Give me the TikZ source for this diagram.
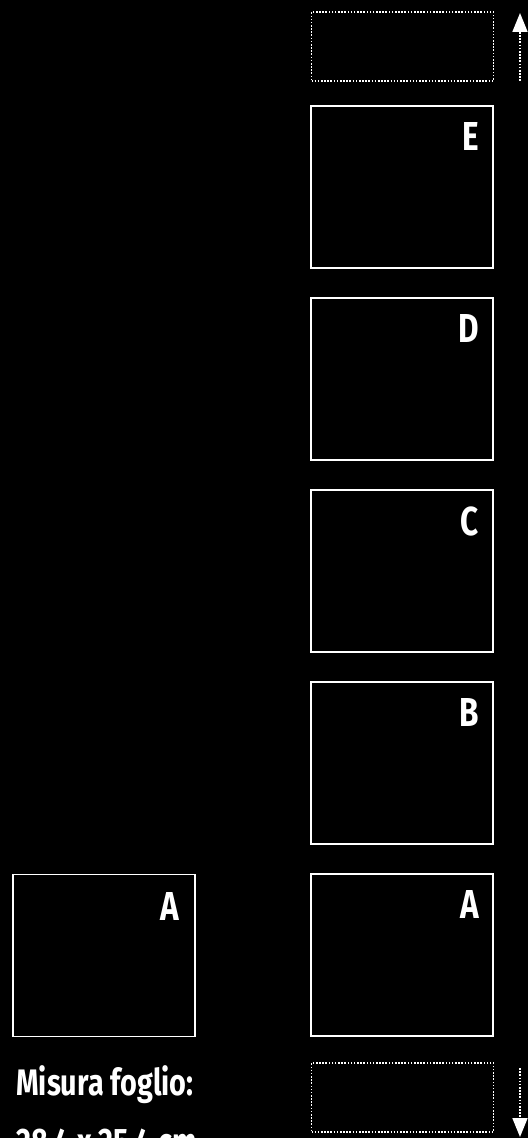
\documentclass[tikz,border=0pt]{standalone}
\usepackage{fontspec}
\setmainfont{Fira Sans}[FakeStretch=0.78]
\usetikzlibrary{arrows.meta, positioning}

\begin{document}
\begin{tikzpicture}[x=0.02cm, y=-0.02cm,
    sheet/.style={draw=white, line width=1.1pt, minimum width=3.64cm,
        minimum height=3.24cm, inner sep=0pt},
    spare/.style={draw=white, line width=1pt, dash pattern=on 0.9pt off 0.9pt,
        minimum width=3.64cm, minimum height=1.38cm, inner sep=0pt},
    letter/.style={text=white, font=\bfseries\fontsize{23}{23}\selectfont, inner sep=0pt},
    note/.style={text=white, font=\bfseries\fontsize{21}{21}\selectfont,
        inner sep=0pt, anchor=base west},
    scroll/.style={draw=white, line width=1pt, dash pattern=on 0.9pt off 0.9pt,
        -{Triangle[width=0.3cm, length=0.38cm]}}]

    \useasboundingbox[fill=black] (0,0) rectangle (528,1138);
    \clip (0,0) rectangle (528,1138);

    % column of sheets
    \foreach \name/\y in {E/187, D/379, C/571, B/763, A/955} {
        \node[sheet] (sheet\name) at (402,\y) {};
        \node[letter, below left=0.34cm and 0.3cm of sheet\name.north east] (lbl\name) {\name};
    }

    % single sheet
    \node[sheet] (sheetSingle) at (104,955.5) {};
    \node[letter, below left=0.38cm and 0.34cm of sheetSingle.north east] (lblSingle) {A};

    % spare sheets
    \node[spare] (spareTop) at (402.5,46.5) {};
    \node[spare] (spareBottom) at (402.5,1097.5) {};

    \coordinate (upStart) at (520,81);
    \coordinate (upEnd) at (520,13);
    \coordinate (downStart) at (520,1068);
    \coordinate (downEnd) at (520,1137);
    \draw[scroll] (upStart) -- (upEnd);
    \draw[scroll] (downStart) -- (downEnd);

    \node[note] (sizeLabel) at (16,1095) {Misura foglio:};
    \node[note] (sizeValue) at (16,1154) {28.4 x 25.4 cm};
\end{tikzpicture}
\end{document}
